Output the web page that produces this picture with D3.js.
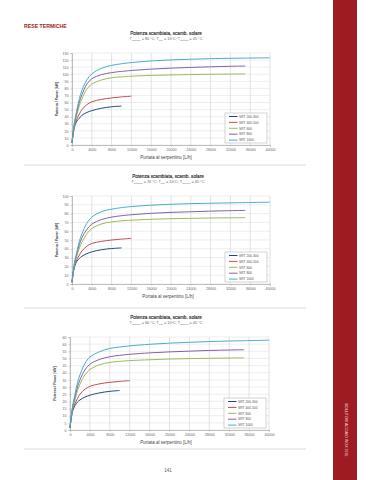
<!DOCTYPE html>
<html>
<head>
<meta charset="utf-8">
<script src="https://cdn.jsdelivr.net/npm/d3@7"></script>
<style>
  body { margin: 0; background: #fff; }
  svg { display: block; font-family: "Liberation Sans", Arial, sans-serif; }
</style>
</head>
<body>
<svg id="page" width="374" height="480"></svg>
<script>
// Data
var portata = [0, 300, 600, 1000, 1500, 2000, 3000, 4000, 6000, 8000, 10000, 12000, 16000, 20000, 24000, 28000, 32000, 35000, 40000];
var seriesNames = ["SRT 200-300", "SRT 400-500", "SRT 600", "SRT 800", "SRT 1000"];
var seriesColors = ["#1f497d", "#c0504d", "#9bbb59", "#8064a2", "#4bacc6"];
var xTicks = [0, 4000, 8000, 12000, 16000, 20000, 24000, 28000, 32000, 36000, 40000];

// Tprimario = 80 °C
var power80 = [
  [3, 18, 28, 34, 38, 42, 46, 48.5, 52, 54, 55],
  [3, 20, 30, 37, 44, 50, 57, 61, 64.5, 66.5, 68, 69],
  [3, 20, 32, 43, 56, 65, 79, 86, 92, 95, 96.3, 97.2, 98.3, 99, 99.5, 99.9, 100.2, 100.4],
  [3, 22, 35, 47, 61, 71, 86, 93.5, 99.5, 102.3, 104, 105.3, 107.2, 108.6, 109.6, 110.5, 111.2, 111.6],
  [3, 22, 36, 50, 66, 77, 92, 100.5, 108.5, 112.5, 114.8, 116.5, 118.8, 120.2, 121.2, 122, 122.5, 122.8, 123.2]
];
// Tprimario = 70 °C
var power70 = [
  [2, 14, 21, 26, 29, 31.5, 34.5, 36.5, 39, 40.3, 41],
  [2, 15, 23, 28, 33, 37.5, 43, 46, 48.5, 50, 51, 51.8],
  [2, 15, 24, 32, 41, 47.5, 57, 63, 68.3, 70.5, 71.8, 72.5, 73.5, 74.2, 74.6, 75, 75.2, 75.4],
  [2, 16, 26, 35, 45, 52.5, 62, 68, 73.3, 76, 77.6, 78.7, 80.3, 81.4, 82.1, 82.8, 83.3, 83.6],
  [2, 16, 27, 37, 49, 57, 69, 76, 82.3, 85, 86.8, 88, 89.6, 90.6, 91.3, 91.8, 92.2, 92.5, 93]
];
// Tprimario = 60 °C
var power60 = [
  [1.5, 9, 14, 17, 19.5, 21, 23, 24.3, 26, 27, 27.6],
  [1.5, 10, 15, 18.5, 22, 25, 28.5, 30.5, 32.3, 33.3, 34, 34.5],
  [1.5, 10, 16, 21, 27.5, 32, 38.5, 42.3, 45.7, 47.2, 48, 48.5, 49.1, 49.6, 49.9, 50.1, 50.3, 50.4],
  [1.5, 11, 17.5, 23, 30, 35, 42, 46, 49.4, 51.2, 52.2, 52.9, 53.9, 54.6, 55.1, 55.6, 55.9, 56.1],
  [1.5, 11, 18, 25, 33, 38.5, 46.5, 51, 54.8, 57, 58, 58.8, 59.9, 60.7, 61.3, 61.8, 62.2, 62.4, 62.8]
];

var svg = d3.select("#page");
var red = "#9e1b22";

// Side band
svg.append("rect").attr("x", 333).attr("y", 0).attr("width", 24).attr("height", 480).attr("fill", red);
svg.append("text")
  .attr("transform", "translate(344.5,430) rotate(90)")
  .attr("text-anchor", "middle")
  .attr("font-size", 3.6).attr("fill", "#f3dede")
  .text("BOLLITORI ACCIAIO INOX 316L");

svg.append("text").attr("x", 24).attr("y", 28)
  .attr("font-size", 5.2).attr("font-weight", "bold").attr("fill", red)
  .text("RESE TERMICHE");

svg.append("text").attr("x", 168).attr("y", 472)
  .attr("text-anchor", "middle").attr("font-size", 4.5).attr("fill", "#555")
  .text("141");

function drawChart(c) {
  var g = svg.append("g");
  var x = d3.scaleLinear().domain([0, 40000]).range([c.left, c.right]);
  var y = d3.scaleLinear().domain([0, c.yMax]).range([c.bottom, c.top]);
  var yTicks = d3.range(0, c.yMax + 0.1, c.yStep);

  // Title and subtitle
  g.append("text").attr("x", c.cx).attr("y", c.titleY)
    .attr("text-anchor", "middle").attr("font-size", 4.7).attr("fill", "#222")
    .attr("stroke", "#222").attr("stroke-width", 0.12)
    .text("Potenza scambiata, scamb. solare");
  var sub = g.append("text").attr("x", c.cx).attr("y", c.titleY + 5)
    .attr("text-anchor", "middle").attr("font-size", 3.8).attr("fill", "#666");
  var parts = [["T", "primario", " = " + c.temp + " °C; "], ["T", "rete", " = 10°C; "], ["T", "prelievo", " = 45 °C"]];
  parts.forEach(function(p) {
    sub.append("tspan").text(p[0]);
    sub.append("tspan").attr("font-size", 2.4).attr("dy", 1.2).text(p[1]);
    sub.append("tspan").attr("dy", -1.2).text(p[2]);
  });

  // Grid
  g.selectAll(".hg").data(yTicks).enter().append("line")
    .attr("x1", c.left).attr("x2", c.right)
    .attr("y1", function(d) { return y(d); }).attr("y2", function(d) { return y(d); })
    .attr("stroke", "#e2e2e2").attr("stroke-width", 0.6);
  g.selectAll(".vg").data(xTicks).enter().append("line")
    .attr("x1", function(d) { return x(d); }).attr("x2", function(d) { return x(d); })
    .attr("y1", c.top).attr("y2", c.bottom)
    .attr("stroke", "#cfcfcf").attr("stroke-width", 0.6);

  // Axes
  var xAxis = d3.axisBottom(x).tickValues(xTicks).tickSize(1.5).tickPadding(2).tickFormat(d3.format("d"));
  var yAxis = d3.axisLeft(y).tickValues(yTicks).tickSize(1.5).tickPadding(2);
  var ax = g.append("g").attr("transform", "translate(0," + c.bottom + ")").call(xAxis);
  var ay = g.append("g").attr("transform", "translate(" + c.left + ",0)").call(yAxis);
  [ax, ay].forEach(function(a) {
    a.select(".domain").attr("stroke", "#a6a6a6").attr("stroke-width", 0.7);
    a.selectAll(".tick line").attr("stroke", "#a6a6a6").attr("stroke-width", 0.5);
    a.selectAll("text").attr("font-size", 3.6).attr("fill", "#666").attr("font-family", "Liberation Sans, Arial, sans-serif");
  });

  g.append("text").attr("x", c.cx).attr("y", c.bottom + 14)
    .attr("text-anchor", "middle").attr("font-size", 4.5).attr("fill", "#444")
    .text("Portata al serpentino [L/h]");
  g.append("text")
    .attr("transform", "translate(" + (c.left - 14) + "," + ((c.top + c.bottom) / 2) + ") rotate(-90)")
    .attr("text-anchor", "middle").attr("font-size", 3.4).attr("font-weight", "bold").attr("fill", "#444")
    .text("Potenza / Power [kW]");

  // Curves
  var line = d3.line()
    .x(function(d) { return x(d[0]); })
    .y(function(d) { return y(d[1]); })
    .curve(d3.curveCatmullRom.alpha(0.5));
  c.data.forEach(function(vals, i) {
    var pts = vals.map(function(v, j) { return [portata[j], v]; });
    g.append("path").attr("d", line(pts))
      .attr("fill", "none").attr("stroke", seriesColors[i]).attr("stroke-width", 1);
  });

  // Legend
  var lw = 42, lh = 30;
  var lx = c.right - 45, ly = c.bottom - lh - 2;
  var lg = g.append("g").attr("transform", "translate(" + lx + "," + ly + ")");
  lg.append("rect").attr("width", lw).attr("height", lh)
    .attr("fill", "#fff").attr("stroke", "#a6a6a6").attr("stroke-width", 0.5);
  seriesNames.forEach(function(name, i) {
    var yy = 3.5 + i * 5.9;
    lg.append("line").attr("x1", 4).attr("x2", 12.5).attr("y1", yy).attr("y2", yy)
      .attr("stroke", seriesColors[i]).attr("stroke-width", 1);
    lg.append("text").attr("x", 14).attr("y", yy + 1.2)
      .attr("font-size", 3.3).attr("fill", "#555").text(name);
  });

  // Separator
  svg.append("line").attr("x1", 24).attr("x2", 306)
    .attr("y1", c.sepY).attr("y2", c.sepY)
    .attr("stroke", "#dcdcdc").attr("stroke-width", 1.2);
}

drawChart({ top: 53, bottom: 145, left: 72, right: 270, yMax: 130, yStep: 10, temp: 80,
  titleY: 34.5, cx: 166, sepY: 165, data: power80 });
drawChart({ top: 196, bottom: 284, left: 72, right: 270, yMax: 100, yStep: 10, temp: 70,
  titleY: 177.5, cx: 168, sepY: 308, data: power70 });
drawChart({ top: 337, bottom: 430, left: 70, right: 269, yMax: 65, yStep: 5, temp: 60,
  titleY: 319, cx: 166, sepY: 449, data: power60 });
</script>
</body>
</html>
